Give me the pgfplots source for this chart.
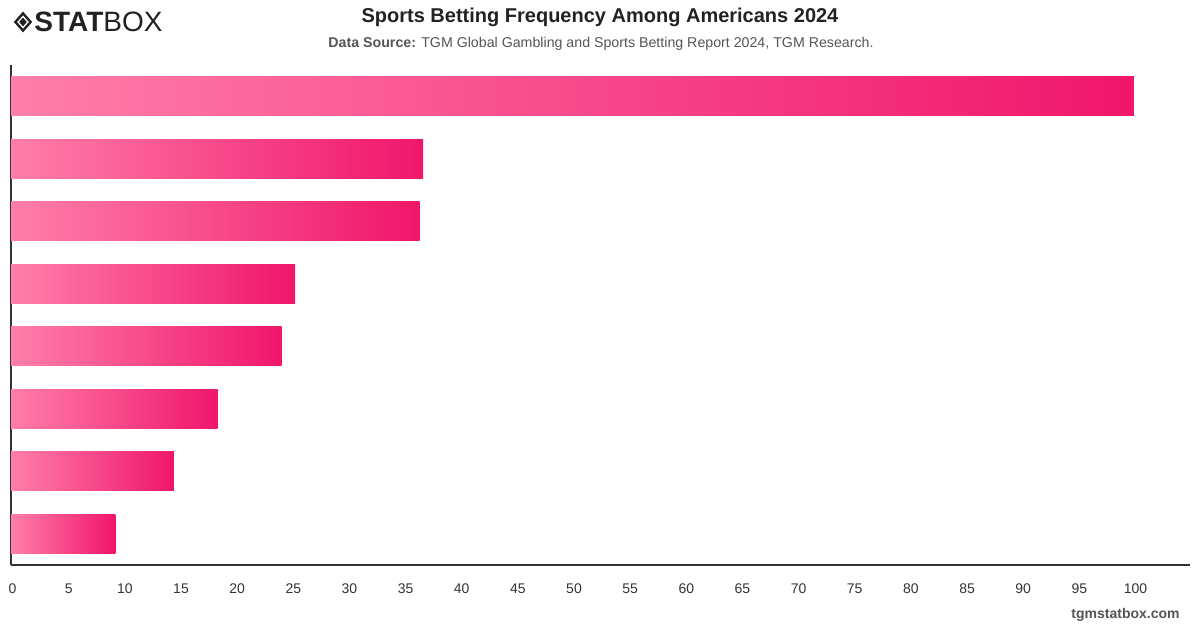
\documentclass[border=0pt]{standalone}
\usepackage{pgfplots}
\pgfplotsset{compat=1.18}
\usepackage{fontspec}
\setmainfont{Liberation Sans}
\definecolor{barL}{HTML}{FF7EAA}
\definecolor{barR}{HTML}{F0166A}
\definecolor{axisc}{HTML}{333333}
\definecolor{titlec}{HTML}{222222}
\definecolor{subc}{HTML}{555555}
\begin{document}
\begin{tikzpicture}
\useasboundingbox (0pt,0pt) rectangle (600pt,314pt);
\begin{axis}[
  at={(5.5pt,31.5pt)}, anchor=south west, scale only axis,
  width=589.5pt, height=250pt,
  xbar, bar width=19.5pt, bar shift=0pt,
  xmin=0, xmax=105, ymin=-0.5, ymax=7.5,
  axis x line*=bottom, axis y line*=left,
  axis line style={-, draw=axisc, line width=0.7pt},
  xtick={0,5,...,100}, ytick=\empty,
  major tick length=0pt,
  xticklabel style={font=\fontsize{7}{8}\selectfont, text=axisc, yshift=-6pt, xshift=0.8pt},
  /pgf/number format/assume math mode=true,
  clip=false,
]
\addplot[draw=none, left color=barL, right color=barR] coordinates {(100,7)};
\addplot[draw=none, left color=barL, right color=barR] coordinates {(36.7,6)};
\addplot[draw=none, left color=barL, right color=barR] coordinates {(36.4,5)};
\addplot[draw=none, left color=barL, right color=barR] coordinates {(25.3,4)};
\addplot[draw=none, left color=barL, right color=barR] coordinates {(24.1,3)};
\addplot[draw=none, left color=barL, right color=barR] coordinates {(18.4,2)};
\addplot[draw=none, left color=barL, right color=barR] coordinates {(14.5,1)};
\addplot[draw=none, left color=barL, right color=barR] coordinates {(9.3,0)};
\end{axis}
% title
\node[font=\bfseries\fontsize{10}{12}\selectfont, text=titlec] at (300pt,305.5pt) {Sports Betting Frequency Among Americans 2024};
\node[font=\fontsize{7.1}{8.5}\selectfont, text=subc] at (300.5pt,292pt) {\textbf{Data Source:} TGM Global Gambling and Sports Betting Report 2024, TGM Research.};
% logo
\draw[line width=1.2pt, titlec] (11.5pt,307.3pt) -- (15.3pt,303pt) -- (11.5pt,298.7pt) -- (7.7pt,303pt) -- cycle;
\fill[titlec] (11.5pt,305.2pt) -- (13.4pt,303pt) -- (11.5pt,300.8pt) -- (9.6pt,303pt) -- cycle;
\node[anchor=west, inner sep=0pt, text=titlec, font=\fontsize{14}{15}\selectfont] at (17pt,303pt) {\textbf{STAT}BOX};
% footer
\node[anchor=east, inner sep=0pt, text=subc, font=\bfseries\fontsize{7}{8}\selectfont] at (590pt,6.5pt) {tgmstatbox.com};
\end{tikzpicture}
\end{document}
